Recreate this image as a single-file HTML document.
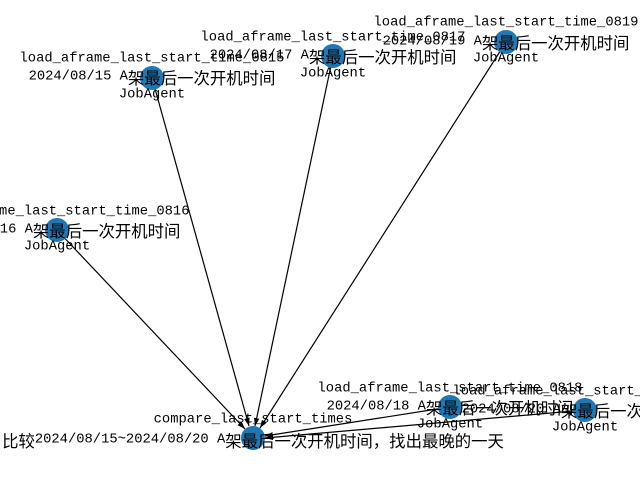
<!DOCTYPE html>
<html><head><meta charset="utf-8"><style>
html,body{margin:0;padding:0;background:#fff;width:640px;height:480px;overflow:hidden}
text{font-family:"Liberation Mono","Noto Sans CJK SC",monospace;font-size:13.8px;fill:#000;text-anchor:middle;dominant-baseline:central}
tspan.c{font-family:"Noto Sans CJK SC","WenQuanYi Zen Hei",sans-serif;font-size:16.4px}
</style></head><body>
<svg width="640" height="480" viewBox="0 0 640 480" xmlns="http://www.w3.org/2000/svg">
<defs><marker id="ar" viewBox="0 0 10 10" refX="10" refY="5" markerWidth="8" markerHeight="8" orient="auto" markerUnits="userSpaceOnUse"><path d="M0,1.5 L10,5 L0,8.5 z" fill="#000"/></marker></defs>
<g stroke="#000" stroke-width="1.2" marker-end="url(#ar)">
<line x1="152" y1="78" x2="249" y2="426"/>
<line x1="333" y1="56" x2="255" y2="426"/>
<line x1="506" y1="42" x2="260" y2="428"/>
<line x1="57" y1="230" x2="245" y2="429"/>
<line x1="450" y1="407" x2="265" y2="436"/>
<line x1="585" y1="410" x2="265" y2="438"/>
</g>
<g fill="#1f77b4">
<circle cx="152" cy="78" r="12"/><circle cx="333" cy="56" r="12"/><circle cx="506" cy="42" r="12"/>
<circle cx="57" cy="230" r="12"/><circle cx="253" cy="438" r="12"/><circle cx="450" cy="407" r="12"/><circle cx="585" cy="410" r="12"/>
</g>
<text x="152" y="59">load_aframe_last_start_time_0815</text>
<text x="152" y="77">2024/08/15 A<tspan class="c">架最后一次开机时间</tspan></text>
<text x="152" y="95">JobAgent</text>
<text x="333" y="38">load_aframe_last_start_time_0817</text>
<text x="333" y="56">2024/08/17 A<tspan class="c">架最后一次开机时间</tspan></text>
<text x="333" y="74">JobAgent</text>
<text x="506" y="23">load_aframe_last_start_time_0819</text>
<text x="506" y="42">2024/08/19 A<tspan class="c">架最后一次开机时间</tspan></text>
<text x="506" y="59">JobAgent</text>
<text x="57" y="212">load_aframe_last_start_time_0816</text>
<text x="57" y="230">2024/08/16 A<tspan class="c">架最后一次开机时间</tspan></text>
<text x="57" y="247">JobAgent</text>
<text x="253" y="420">compare_last_start_times</text>
<text x="253" y="440"><tspan class="c">比较</tspan>2024/08/15~2024/08/20 A<tspan class="c">架最后一次开机时间，找出最晚的一天</tspan></text>
<text x="450" y="389">load_aframe_last_start_time_0818</text>
<text x="450" y="407">2024/08/18 A<tspan class="c">架最后一次开机时间</tspan></text>
<text x="450" y="425">JobAgent</text>
<text x="585" y="392">load_aframe_last_start_time_0820</text>
<text x="585" y="410">2024/08/20 A<tspan class="c">架最后一次开机时间</tspan></text>
<text x="585" y="428">JobAgent</text>
</svg>
</body></html>
